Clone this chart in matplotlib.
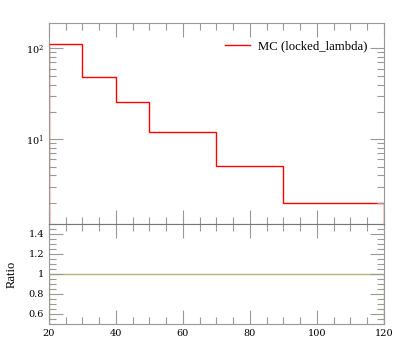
import matplotlib
matplotlib.use("Agg")
import matplotlib.pyplot as plt
from matplotlib.ticker import MultipleLocator, FixedLocator, NullFormatter, LogLocator
import numpy as np

plt.rcParams['font.family'] = ['DejaVu Serif']
plt.rcParams['mathtext.fontset'] = 'dejavuserif'

# histogram bins and values
bin_edges = [20, 30, 40, 50, 70, 90, 120]
mc_values = [111, 48.5, 25.5, 12.1, 5.1, 2.0]
ratio_values = [1, 1, 1, 1, 1, 1]
legend_label = "MC (locked_lambda)"

axis_col = "#999999"

fig = plt.figure(figsize=(3.97, 3.58), dpi=100)
ax1 = fig.add_axes([0.1234, 0.3743, 0.8438, 0.5615])
ax2 = fig.add_axes([0.1234, 0.095, 0.8438, 0.2793], sharex=ax1)

ax1.stairs(mc_values, bin_edges, color="red", lw=1.0, label=legend_label)
ax1.set_yscale("log")
ax1.set_ylim(1.17, 190)
ax1.set_xlim(20, 120)

ax2.stairs(ratio_values, bin_edges, color="#b3b37a", lw=1.0)
ax2.set_ylim(0.5, 1.5)

for ax in (ax1, ax2):
    for s in ax.spines.values():
        s.set_color(axis_col)
        s.set_linewidth(0.8)
    ax.tick_params(which="both", direction="in", top=True, right=True,
                   color=axis_col, labelsize=7, width=0.8)
    ax.tick_params(which="major", length=10)
    ax.tick_params(which="minor", length=5)
    ax.xaxis.set_major_locator(MultipleLocator(20))
    ax.xaxis.set_minor_locator(MultipleLocator(5))

# the border between the panels is a bit darker
ax2.spines["top"].set_color("#777777")

ax1.yaxis.set_major_locator(LogLocator(base=10))
ax1.yaxis.set_minor_locator(LogLocator(base=10, subs=np.arange(2, 10)))
ax1.yaxis.set_minor_formatter(NullFormatter())
ax1.tick_params(axis="x", labelbottom=False)

ax2.yaxis.set_major_locator(FixedLocator([0.6, 0.8, 1.0, 1.2, 1.4]))
ax2.yaxis.set_minor_locator(MultipleLocator(0.05))
ax2.set_yticklabels(["0.6", "0.8", "1", "1.2", "1.4"])
ax2.set_ylabel("Ratio", fontsize=9, labelpad=8, family="Liberation Serif")

leg = ax1.legend(loc="upper right", frameon=False,
                 prop={"family": "Liberation Serif", "size": 9.2},
                 handlelength=2.0, handletextpad=0.6,
                 bbox_to_anchor=(0.985, 0.97))

fig.savefig("out.png", dpi=100)
